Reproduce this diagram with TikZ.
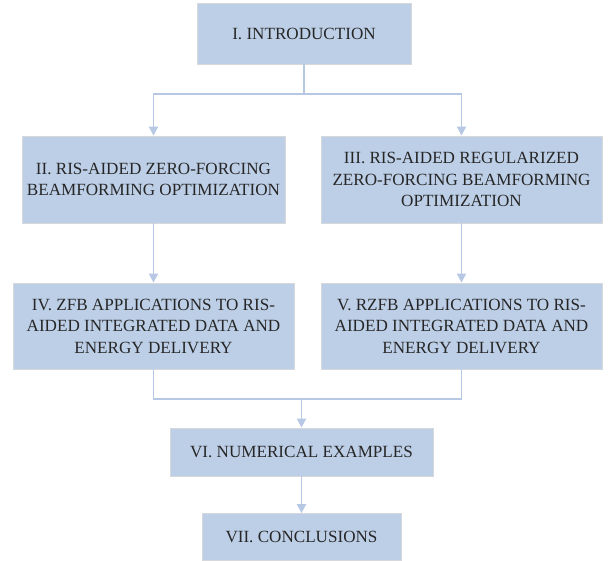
\documentclass[tikz,border=0pt]{standalone}
\usepackage{fontspec}
\setmainfont{Liberation Serif}
\usepackage{tikz}
\usetikzlibrary{positioning,arrows.meta}

\definecolor{boxfill}{RGB}{189,207,231}
\definecolor{boxline}{RGB}{214,216,220}
\definecolor{linkcol}{RGB}{182,200,228}
\definecolor{textcol}{RGB}{38,38,38}

\begin{document}
\begin{tikzpicture}[x=1pt,y=1pt,node distance=146.5pt,on grid,
      sec/.style={draw=boxline,line width=0.8pt,fill=boxfill,text=textcol,align=center,
        inner sep=0pt,font=\fontsize{17.1}{21.5}\selectfont},
      link/.style={draw=linkcol,line width=1.8pt},
      >={Triangle[length=9pt,width=9pt]}]
      \useasboundingbox (0,0) rectangle (610,-561);
			\node[sec,minimum width=214pt,minimum height=61pt] (intro) at (304,-33.5) {I. INTRODUCTION};
      \node[sec,minimum width=263pt,minimum height=87pt] (zf) at (153.5,-179.5) {II. RIS-AIDED ZERO-FORCING\\BEAMFORMING OPTIMIZATION};
      \node[sec,minimum width=281pt,minimum height=87pt] (rzf) [right=308pt of zf] {III. RIS-AIDED REGULARIZED\\ZERO-FORCING BEAMFORMING\\OPTIMIZATION};
      \node[sec,minimum width=281pt,minimum height=86pt] (zfapp) [below=of zf] {IV. ZFB APPLICATIONS TO RIS-\\AIDED INTEGRATED DATA AND\\ENERGY DELIVERY};
      \node[sec,minimum width=281pt,minimum height=86pt] (rzfapp) [below=of rzf] {V. RZFB APPLICATIONS TO RIS-\\AIDED INTEGRATED DATA AND\\ENERGY DELIVERY};
      \node[sec,minimum width=263pt,minimum height=48pt] (num) at (301.5,-452) {VI. NUMERICAL EXAMPLES};
      \node[sec,minimum width=199pt,minimum height=47pt] (concl) [below=85pt of num] {VII. CONCLUSIONS};
      \coordinate (fork) at (304,-94);
      \coordinate (join) at (301.5,-399);
			\draw[link] (intro) -- (fork);
			\draw[link,->] (fork) -| (zf);
			\draw[link,->] (fork) -| (rzf);
			\draw[link,->] (zf) -- (zfapp);
			\draw[link,->] (rzf) -- (rzfapp);
			\draw[link] (zfapp) |- (join) -| (rzfapp);
			\draw[link,->] (join) -- (num);
			\draw[link,->] (num) -- (concl);
		\end{tikzpicture}
\end{document}
